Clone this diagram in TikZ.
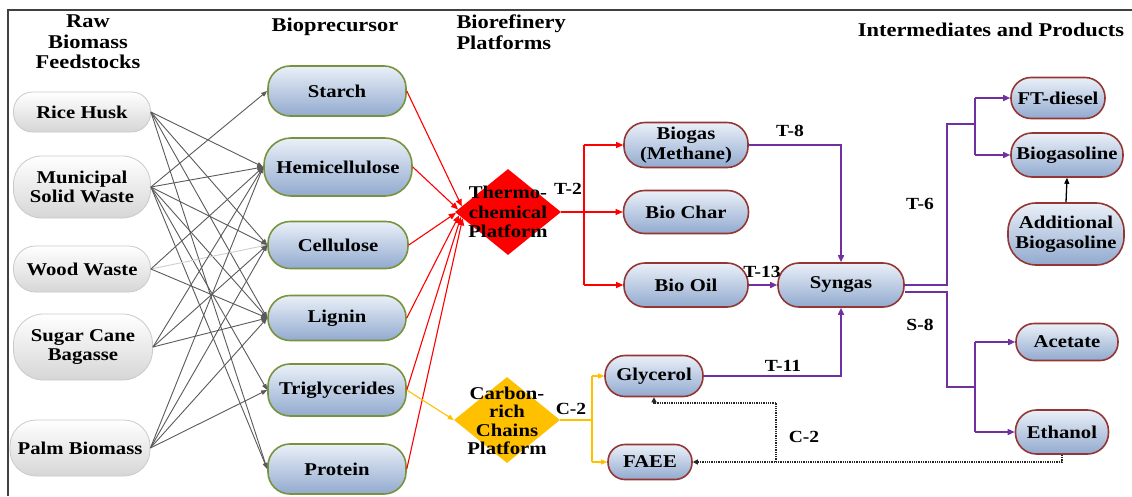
\documentclass[tikz,border=0pt]{standalone}
\usepackage{fontspec}
\setmainfont{Liberation Serif}[FakeStretch=1.15]
\usetikzlibrary{arrows.meta,shapes.geometric}
\definecolor{gline}{HTML}{5A5A5A}
\definecolor{lgline}{HTML}{CFCFCF}
\definecolor{rline}{HTML}{FF0000}
\definecolor{pline}{HTML}{7030A0}
\definecolor{yline}{HTML}{FFC000}
\definecolor{gborder}{HTML}{77933C}
\definecolor{rborder}{HTML}{943634}
\definecolor{btop}{HTML}{EAF0F8}
\definecolor{bbot}{HTML}{92AACF}
\definecolor{fborder}{HTML}{CACACA}
\definecolor{fbot}{HTML}{D6D6D6}
\definecolor{framec}{HTML}{404040}
\begin{document}
\begin{tikzpicture}[x=1pt,y=-1pt,
  txt/.style={font=\bfseries\fontsize{18}{19.5}\selectfont, align=center, text=black},
  ttl/.style={font=\bfseries\fontsize{19.5}{20.5}\selectfont, align=center, text=black},
  lbl/.style={font=\bfseries\fontsize{17}{18}\selectfont, text=black, inner sep=0pt},
  feed/.style={txt, draw=fborder, line width=0.8pt, top color=white, bottom color=fbot, rounded corners=19pt, inner sep=1pt},
  prec/.style={txt, draw=gborder, line width=1.6pt, top color=btop, bottom color=bbot, rounded corners=22pt, inner sep=1pt},
  prod/.style={txt, draw=rborder, line width=1.6pt, top color=btop, bottom color=bbot, rounded corners=17pt, inner sep=1pt},
  dmd/.style={diamond, minimum width=106pt, minimum height=86pt, inner sep=0pt},
  garr/.style={draw=gline, line width=0.9pt, -{Triangle[length=6pt,width=4.5pt]}},
  lgarr/.style={draw=lgline, line width=0.9pt, -{Triangle[length=6pt,width=4.5pt]}},
  rarr/.style={draw=rline, line width=1.1pt, -{Triangle[length=7pt,width=6pt]}},
  rln/.style={draw=rline, line width=1.1pt},
  yarr/.style={draw=yline, line width=1.1pt, -{Triangle[length=6pt,width=5pt]}},
  yln/.style={draw=yline, line width=1.1pt},
  parr/.style={draw=pline, line width=1.5pt, -{Triangle[length=7pt,width=6pt]}},
  pln/.style={draw=pline, line width=1.5pt},
  barr/.style={draw=black, line width=1.3pt, -{Triangle[length=6pt,width=5pt]}},
  darr/.style={draw=black!85, line width=1.3pt, densely dotted, -{Triangle[length=5pt,width=5pt]}},
  dln/.style={draw=black!85, line width=1.3pt, densely dotted}
]
\useasboundingbox (0,0) rectangle (1132,496);
\fill[white] (0,0) rectangle (1132,496);
\draw[framec, line width=1.5pt] (8,496) -- (8,10) -- (1132,10);

% titles
\node[ttl] (tRaw) at (88,42) {Raw\\Biomass\\Feedstocks};
\node[ttl] (tBio) at (335,27) {Bioprecursor};
\node[ttl, align=left, anchor=west] (tRef) at (453,32) {Biorefinery\\Platforms};
\node[ttl] (tInt) at (991,30) {Intermediates and Products};

% feedstocks
\node[feed, minimum width=137pt, minimum height=40pt] (rice) at (82,112) {Rice Husk};
\node[feed, minimum width=137pt, minimum height=62pt, rounded corners=28pt] (msw) at (82,187) {Municipal\\Solid Waste};
\node[feed, minimum width=137pt, minimum height=46pt, rounded corners=22pt] (wood) at (82,269) {Wood Waste};
\node[feed, minimum width=139pt, minimum height=66pt, rounded corners=30pt] (sugar) at (83,347) {Sugar Cane\\Bagasse};
\node[feed, minimum width=140pt, minimum height=56pt, rounded corners=26pt] (palm) at (80,448) {Palm Biomass};

% bioprecursors
\node[prec, minimum width=138pt, minimum height=50pt] (starch) at (337,91) {Starch};
\node[prec, minimum width=148pt, minimum height=58pt, rounded corners=27pt] (hemi) at (338,167) {Hemicellulose};
\node[prec, minimum width=140pt, minimum height=47pt] (cell) at (338,245) {Cellulose};
\node[prec, minimum width=138pt, minimum height=45pt] (lignin) at (337,318) {Lignin};
\node[prec, minimum width=138pt, minimum height=52pt] (trig) at (337,390) {Triglycerides};
\node[prec, minimum width=138pt, minimum height=50pt] (protein) at (337,469) {Protein};

% platforms
\node[dmd, fill=rline] (thermo) at (508,212) {};
\node[txt] (thermoT) at (508,212) {Thermo-\\chemical\\Platform};
\node[dmd, fill=yline] (carbon) at (507,420) {};
\node[txt, font=\bfseries\fontsize{18}{18.5}\selectfont] (carbonT) at (507,421) {Carbon-\\rich\\Chains\\Platform};

% intermediates and products
\node[prod, minimum width=124pt, minimum height=45pt, rounded corners=21pt] (biogas) at (686,145) {Biogas\\(Methane)};
\node[prod, minimum width=125pt, minimum height=43pt, rounded corners=21pt] (biochar) at (686,212) {Bio Char};
\node[prod, minimum width=124pt, minimum height=44pt, rounded corners=21pt] (biooil) at (686,285) {Bio Oil};
\node[prod, minimum width=126pt, minimum height=44pt, rounded corners=21pt] (syngas) at (841,285) {Syngas};
\node[prod, minimum width=98pt, minimum height=41pt, rounded corners=20pt] (glycerol) at (654,376) {Glycerol};
\node[prod, minimum width=84pt, minimum height=35pt] (faee) at (650,462) {FAEE};
\node[prod, minimum width=94pt, minimum height=41pt, rounded corners=20pt] (ftd) at (1058,98) {FT-diesel};
\node[prod, minimum width=112pt, minimum height=44pt, rounded corners=21pt] (bgs) at (1067,155) {Biogasoline};
\node[prod, minimum width=116pt, minimum height=62pt, rounded corners=28pt] (addbg) at (1066,234) {Additional\\Biogasoline};
\node[prod, minimum width=102pt, minimum height=37pt, rounded corners=18pt] (acetate) at (1067,342) {Acetate};
\node[prod, minimum width=93pt, minimum height=44pt, rounded corners=21pt] (ethanol) at (1062,432) {Ethanol};

% feedstock -> bioprecursor
\draw[garr] (rice.east) -- (hemi.west);
\draw[garr] (rice.east) -- (cell.west);
\draw[garr] (rice.east) -- (lignin.west);
\draw[garr] (rice.east) -- (protein.west);
\draw[garr] (msw.east) -- (starch.west);
\draw[garr] (msw.east) -- (hemi.west);
\draw[garr] (msw.east) -- (cell.west);
\draw[garr] (msw.east) -- (lignin.west);
\draw[garr] (msw.east) -- (trig.west);
\draw[garr] (msw.east) -- (protein.west);
\draw[lgarr] (wood.east) -- (cell.west);
\draw[garr] (wood.east) -- (hemi.west);
\draw[garr] (wood.east) -- (lignin.west);
\draw[garr] (sugar.east) -- (hemi.west);
\draw[garr] (sugar.east) -- (cell.west);
\draw[garr] (sugar.east) -- (lignin.west);
\draw[garr] (palm.east) -- (hemi.west);
\draw[garr] (palm.east) -- (cell.west);
\draw[garr] (palm.east) -- (lignin.west);
\draw[garr] (palm.east) -- (trig.west);

% bioprecursor -> platforms
\draw[rarr] (starch.east) -- (thermo.173);
\draw[rarr] (hemi.east) -- (thermo.177);
\draw[rarr] (cell.east) -- (thermo.181);
\draw[rarr] (lignin.east) -- (thermo.184);
\draw[rarr] (trig.east) -- (thermo.186);
\draw[rarr] (protein.east) -- (thermo.188);
\draw[yarr] (trig.east) -- (carbon.west);

% thermo branch
\coordinate (tj) at (584,212);
\draw[rarr] (thermo.east) -- (biochar.west);
\draw[rln] (tj |- biogas.west) -- (tj |- biooil.west);
\draw[rarr] (tj |- biogas.west) -- (biogas.west);
\draw[rarr] (tj |- biooil.west) -- (biooil.west);
\node[lbl] (lT2) at (568,189) {T-2};

% carbon branch
\coordinate (cj) at (592,420);
\draw[yln] (carbon.east) -- (cj);
\draw[yln] (cj |- glycerol.west) -- (cj |- faee.west);
\draw[yarr] (cj |- glycerol.west) -- (glycerol.west);
\draw[yarr] (cj |- faee.west) -- (faee.west);
\node[lbl] (lC2a) at (571,409) {C-2};

% to syngas
\draw[parr] (biogas.east) -| (syngas.north);
\draw[parr] (biooil.east) -- (syngas.west);
\draw[parr] (glycerol.east) -| (syngas.south);
\node[lbl] (lT8) at (790,131) {T-8};
\node[lbl] (lT13) at (762,272) {T-13};
\node[lbl] (lT11) at (783,366) {T-11};

% from syngas
\coordinate (su) at (947,124);
\coordinate (sv) at (975,124);
\coordinate (sd) at (947,387);
\coordinate (se) at (975,387);
\draw[pln] (syngas.east) -| (su) -- (sv);
\draw[pln] (sv |- ftd.west) -- (sv |- bgs.west);
\draw[parr] (sv |- ftd.west) -- (ftd.west);
\draw[parr] (sv |- bgs.west) -- (bgs.west);
\draw[pln] ([yshift=-7pt]syngas.east) -| (sd) -- (se);
\draw[pln] (se |- acetate.west) -- (se |- ethanol.west);
\draw[parr] (se |- acetate.west) -- (acetate.west);
\draw[parr] (se |- ethanol.west) -- (ethanol.west);
\node[lbl] (lT6) at (920,204) {T-6};
\node[lbl] (lS8) at (920,325) {S-8};

\draw[barr] (addbg.north) -- (bgs.south);

% recycle dotted
\coordinate (dj) at (776,462);
\coordinate (dk) at (776,403);
\draw[darr] (ethanol.south) |- (faee.east);
\draw[dln] (dj) -- (dk);
\draw[darr] (dk) -| (glycerol.south);
\node[lbl] (lC2b) at (804,437) {C-2};
\end{tikzpicture}
\end{document}
